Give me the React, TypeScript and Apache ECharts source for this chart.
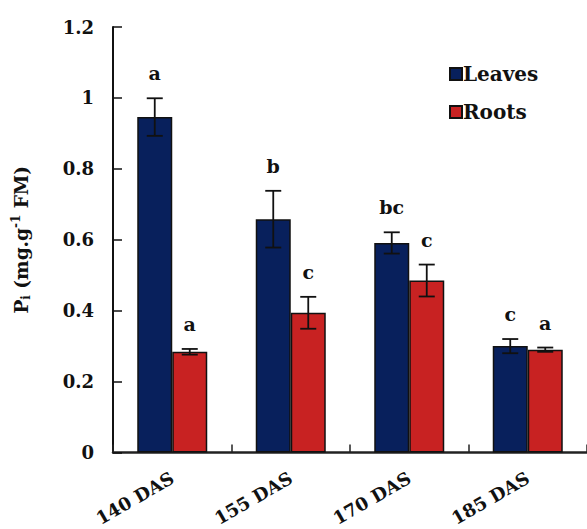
import React, { useEffect, useRef } from "react";
import * as echarts from "echarts";

const categories = ["140 DAS", "155 DAS", "170 DAS", "185 DAS"];
const leaves = [0.946, 0.658, 0.591, 0.3];
const leavesErr = [0.053, 0.08, 0.03, 0.02];
const leavesLetters = ["a", "b", "bc", "c"];
const roots = [0.284, 0.394, 0.485, 0.29];
const rootsErr = [0.008, 0.045, 0.045, 0.006];
const rootsLetters = ["a", "c", "c", "a"];
const yMin = 0;
const yMax = 1.2;
const yInterval = 0.2;

const FONT = "DejaVu Serif";
const BAR_W = 35;

function errorSeries(name: string, means: number[], errs: number[], letters: string[], side: number) {
  return {
    type: "custom",
    name: name + " err",
    z: 5,
    silent: true,
    data: means.map((m, i) => [i, m, errs[i]]),
    renderItem: (params: any, api: any) => {
      const cat = api.value(0);
      const mean = api.value(1);
      const err = api.value(2);
      const top = api.coord([cat, mean + err]);
      const bot = api.coord([cat, mean - err]);
      const x = top[0] + side * (BAR_W / 2);
      const cap = 8;
      const ls = { stroke: "#111", lineWidth: 1.8 };
      return {
        type: "group",
        children: [
          { type: "line", shape: { x1: x, y1: top[1], x2: x, y2: bot[1] }, style: ls },
          { type: "line", shape: { x1: x - cap, y1: top[1], x2: x + cap, y2: top[1] }, style: ls },
          { type: "line", shape: { x1: x - cap, y1: bot[1], x2: x + cap, y2: bot[1] }, style: ls },
          {
            type: "text",
            x: x,
            y: top[1] - 25,
            style: {
              text: letters[params.dataIndex],
              fontFamily: FONT,
              fontWeight: "bold",
              fontSize: 19,
              fill: "#111",
              align: "center",
              verticalAlign: "middle",
            },
          },
        ],
      };
    },
  };
}

export default function App() {
  const ref = useRef<HTMLDivElement>(null);
  useEffect(() => {
    if (!ref.current) return;
    const chart = echarts.init(ref.current, undefined, { renderer: "svg" });
    chart.setOption({
      animation: false,
      backgroundColor: "#fff",
      textStyle: { fontFamily: FONT },
      grid: { left: 113, top: 27, width: 481, height: 426, containLabel: false },
      legend: {
        orient: "vertical",
        left: 449,
        top: 64,
        itemWidth: 12,
        itemHeight: 12,
        itemGap: 18,
        padding: 0,
        icon: "rect",
        data: ["Leaves", "Roots"],
        textStyle: { fontFamily: FONT, fontWeight: "bold", fontSize: 20, color: "#111", padding: [0, 0, 0, -4] },
      },
      xAxis: {
        type: "category",
        data: categories,
        boundaryGap: true,
        axisLine: { lineStyle: { color: "#222", width: 2.5 } },
        axisTick: { show: true, inside: true, length: 8, lineStyle: { color: "#222", width: 1.5 } },
        axisLabel: {
          rotate: 30,
          margin: 24,
          fontFamily: FONT,
          fontWeight: "bold",
          fontSize: 18,
          color: "#111",
        },
      },
      yAxis: {
        type: "value",
        min: yMin,
        max: yMax,
        interval: yInterval,
        splitLine: { show: false },
        axisLine: { show: true, lineStyle: { color: "#111", width: 2 } },
        axisTick: { show: true, inside: true, length: 9, lineStyle: { color: "#111", width: 1.5 } },
        axisLabel: {
          margin: 19,
          fontFamily: FONT,
          fontWeight: "bold",
          fontSize: 18,
          color: "#111",
        },
        name: "{b|P}{sub|i}{b| (mg.g}{sup|-1}{b| FM)}",
        nameLocation: "middle",
        nameRotate: 90,
        nameGap: 81,
        nameTextStyle: {
          rich: {
            b: { fontFamily: FONT, fontWeight: "bold", fontSize: 18.5, color: "#111", lineHeight: 22, verticalAlign: "middle" },
            sub: { fontFamily: FONT, fontWeight: "bold", fontSize: 12, color: "#111", lineHeight: 22, verticalAlign: "bottom", padding: [6, 0, 0, 0] },
            sup: { fontFamily: FONT, fontWeight: "bold", fontSize: 12, color: "#111", lineHeight: 22, verticalAlign: "top", padding: [0, 0, 6, 0] },
          },
        },
      },
      series: [
        {
          type: "bar",
          name: "Leaves",
          data: leaves,
          barWidth: BAR_W,
          barGap: "0%",
          itemStyle: { color: "#08205C", borderColor: "#111", borderWidth: 1.5 },
        },
        {
          type: "bar",
          name: "Roots",
          data: roots,
          barWidth: BAR_W,
          barGap: "0%",
          itemStyle: { color: "#C82222", borderColor: "#111", borderWidth: 1.5 },
        },
        errorSeries("Leaves", leaves, leavesErr, leavesLetters, -1),
        errorSeries("Roots", roots, rootsErr, rootsLetters, 1),
      ],
    });
    return () => chart.dispose();
  }, []);
  return (
    <div
      ref={ref}
      style={{ position: "fixed", left: 0, top: 0, width: 587, height: 529, background: "#fff" }}
    />
  );
}
